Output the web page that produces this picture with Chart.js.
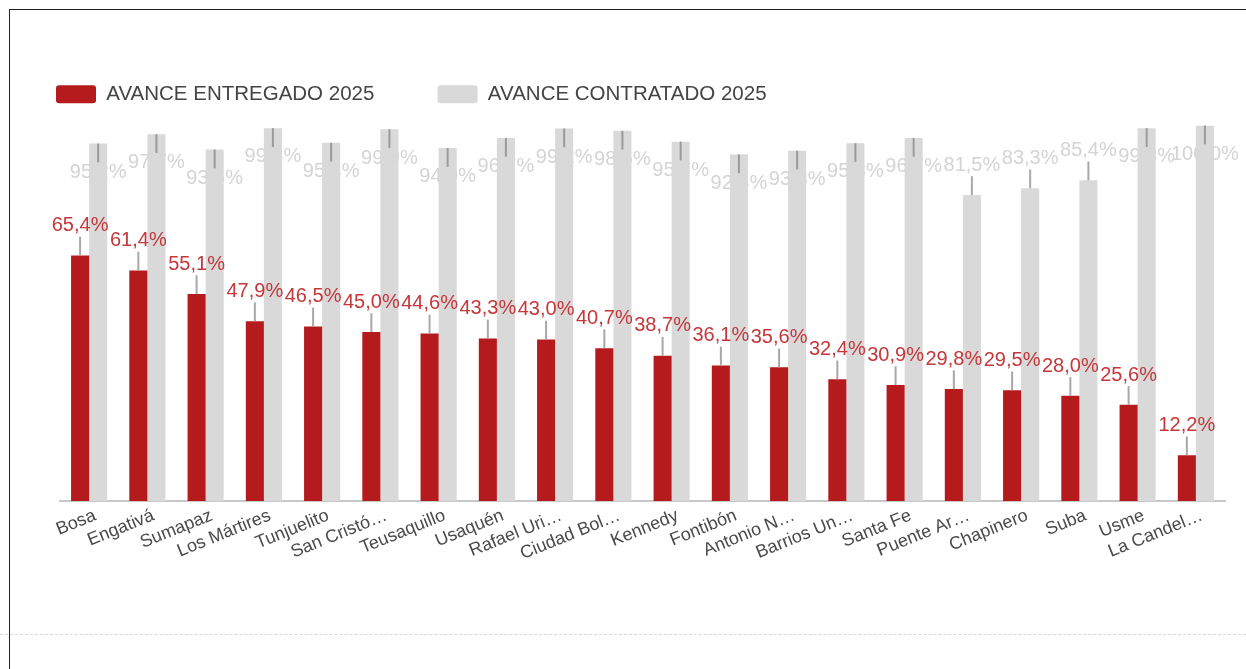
<!DOCTYPE html>
<html lang="es">
<head>
<meta charset="utf-8">
<script src="https://cdn.jsdelivr.net/npm/chart.js@4.4.1/dist/chart.umd.min.js"></script>
<style>
  html, body { margin: 0; padding: 0; background: #fff; }
  body { width: 1246px; height: 669px; position: relative; overflow: hidden; }
  .marco {
    position: absolute; left: 9px; top: 9px; width: 1237px; height: 660px;
    border-left: 1px solid #222; border-top: 1px solid #222;
  }
  .caja { position: absolute; left: 0; top: 0; width: 1237px; height: 624px; }
  .separador {
    position: absolute; left: 0; top: 634px; width: 1246px;
    border-top: 1px dashed #d8d8d8;
  }
</style>
</head>
<body>
<div class="marco">
  <div class="caja"><canvas id="avanceChart"></canvas></div>
</div>
<div class="separador"></div>
<script>
// Localidades (los nombres largos aparecen recortados en el original)
const categories = ['Bosa', 'Engativá', 'Sumapaz', 'Los Mártires', 'Tunjuelito', 'San Cristó…',
  'Teusaquillo', 'Usaquén', 'Rafael Uri…', 'Ciudad Bol…', 'Kennedy', 'Fontibón', 'Antonio N…',
  'Barrios Un…', 'Santa Fe', 'Puente Ar…', 'Chapinero', 'Suba', 'Usme', 'La Candel…'];

// Avance entregado 2025 (%)
const entregado = [65.4, 61.4, 55.1, 47.9, 46.5, 45.0, 44.6, 43.3, 43.0, 40.7,
  38.7, 36.1, 35.6, 32.4, 30.9, 29.8, 29.5, 28.0, 25.6, 12.2];

// Avance contratado 2025 (%)
const contratado = [95.2, 97.7, 93.6, 99.3, 95.4, 99.0, 94.0, 96.7, 99.2, 98.6,
  95.7, 92.3, 93.3, 95.3, 96.7, 81.5, 83.3, 85.4, 99.3, 100.0];

const seriesNames = ['AVANCE ENTREGADO 2025', 'AVANCE CONTRATADO 2025'];

// margen de la barra de error (puntos porcentuales)
const errorSpan = 5;
const flipAbove = 90;

const fmt = v => v.toFixed(1).replace('.', ',') + '%';
const FONT = 'Arial, "Liberation Sans", sans-serif';

// Dibuja barras de error y etiquetas de valor
const valueMarks = {
    id: 'valueMarks',
    beforeDatasetsDraw(chart) {
        // etiquetas del gris van detrás de las barras
        const ctx = chart.ctx;
        const y = chart.scales.y;
        const meta = chart.getDatasetMeta(1);
        ctx.save();
        ctx.font = '20px ' + FONT;
        ctx.fillStyle = '#d4d4d4';
        ctx.textAlign = 'center';
        ctx.textBaseline = 'middle';
        meta.data.forEach((bar, i) => {
            const v = contratado[i];
            const ty = v > flipAbove ? y.getPixelForValue(v - errorSpan) + 10
                                      : y.getPixelForValue(v + errorSpan) - 11;
            ctx.fillText(fmt(v), bar.x, ty);
        });
        ctx.restore();
    },
    afterDatasetsDraw(chart) {
        const ctx = chart.ctx;
        const y = chart.scales.y;
        ctx.save();
        ctx.lineWidth = 2;
        // barras de error
        [entregado, contratado].forEach((vals, d) => {
            const meta = chart.getDatasetMeta(d);
            meta.data.forEach((bar, i) => {
                const v = vals[i];
                const end = v > flipAbove ? v - errorSpan : v + errorSpan;
                ctx.strokeStyle = d === 1 && v > flipAbove ? '#9a9a9a' : '#a8a8a8';
                ctx.beginPath();
                ctx.moveTo(bar.x, y.getPixelForValue(v));
                ctx.lineTo(bar.x, y.getPixelForValue(end));
                ctx.stroke();
            });
        });
        // etiquetas rojas encima
        ctx.font = '20px ' + FONT;
        ctx.fillStyle = '#c4373a';
        ctx.textAlign = 'center';
        ctx.textBaseline = 'middle';
        chart.getDatasetMeta(0).data.forEach((bar, i) => {
            const v = entregado[i];
            ctx.fillText(fmt(v), bar.x, y.getPixelForValue(v + errorSpan) - 11);
        });
        ctx.restore();
    }
};

function initAvanceChart() {
    const ctx = document.getElementById('avanceChart').getContext('2d');

    const data = {
        labels: categories,
        datasets: [{
            label: seriesNames[0],
            data: entregado,
            xAxisID: 'x',
            backgroundColor: '#b51a1c'
        }, {
            label: seriesNames[1],
            data: contratado,
            xAxisID: 'x',
            backgroundColor: '#d9d9d9'
        }]
    };

    new Chart(ctx, {
        type: 'bar',
        data: data,
        plugins: [valueMarks],
        options: {
            responsive: true,
            maintainAspectRatio: false,
            animation: false,
            datasets: {
                bar: { categoryPercentage: 0.62, barPercentage: 1.0 }
            },
            layout: { padding: { top: 62, left: 34, right: 22, bottom: 8 } },
            plugins: {
                legend: {
                    position: 'top',
                    align: 'start',
                    labels: {
                        boxWidth: 40,
                        boxHeight: 18,
                        color: '#444',
                        padding: 12,
                        useBorderRadius: true,
                        borderRadius: 3,
                        font: { size: 20.5, family: FONT },
                        // separa las dos entradas como en el original
                        generateLabels: chart => {
                            const items = Chart.defaults.plugins.legend.labels.generateLabels(chart);
                            items.forEach((it, i) => {
                                if (i < items.length - 1) it.text += '\u00a0'.repeat(9);
                            });
                            return items;
                        }
                    }
                },
                tooltip: { enabled: false }
            },
            scales: {
                x: {
                    grid: { display: false, drawTicks: false },
                    border: { color: '#c8c8c8', width: 2 },
                    ticks: {
                        color: '#4a4a4a',
                        font: { size: 18, family: FONT },
                        minRotation: 22,
                        maxRotation: 22,
                        autoSkip: false,
                        padding: 4,
                        labelOffset: 6
                    },
                    afterFit: scale => { scale.height = 125; }
                },
                espacio: {
                    type: 'category',
                    position: 'top',
                    grid: { display: false },
                    border: { display: false },
                    ticks: { display: false },
                    afterFit: scale => { scale.height = 11; }
                },
                y: {
                    min: 0,
                    max: 100,
                    grid: { display: false },
                    border: { display: false },
                    ticks: { display: false },
                    afterFit: scale => { scale.width = 16; }
                }
            }
        }
    });
}

document.addEventListener('DOMContentLoaded', initAvanceChart);
</script>
</body>
</html>
